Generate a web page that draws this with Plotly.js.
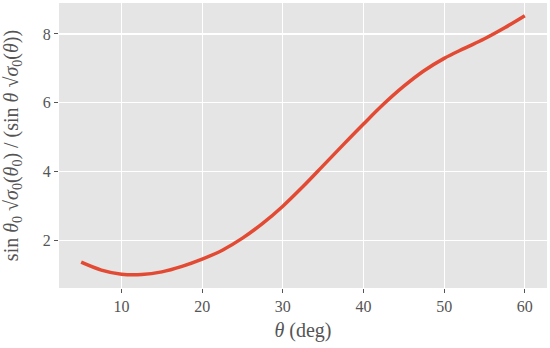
<!DOCTYPE html>
<html>
<head>
<meta charset="utf-8">
<script src="https://cdn.plot.ly/plotly-3.0.1.min.js"></script>
<style>html,body{margin:0;padding:0;background:#fff;}#chart{width:550px;height:348px;}</style>
</head>
<body>
<div id="chart"></div>
<script>
const theta = [5, 7.5, 10, 12.5, 15, 17.5, 20, 22.5, 25, 27.5, 30, 32.5, 35, 37.5, 40, 42.5, 45, 47.5, 50, 52.5, 55, 57.5, 60];
const ratio = [1.36, 1.13, 1.01, 1.00, 1.08, 1.24, 1.45, 1.71, 2.06, 2.49, 2.99, 3.56, 4.17, 4.78, 5.38, 5.96, 6.48, 6.93, 7.29, 7.58, 7.86, 8.18, 8.53];
const xTicks = [10, 20, 30, 40, 50, 60];
const yTicks = [2, 4, 6, 8];

const font = "Liberation Serif";
Plotly.newPlot('chart', [{
  x: theta, y: ratio, type: 'scatter', mode: 'lines',
  line: {color: '#E24A33', width: 3.5, shape: 'spline', smoothing: 1},
  hoverinfo: 'skip'
}], {
  width: 550, height: 348,
  margin: {l: 59, r: 3, t: 3, b: 60},
  paper_bgcolor: '#ffffff', plot_bgcolor: '#E5E5E5',
  showlegend: false,
  font: {family: font, color: '#555555', size: 16},
  xaxis: {
    range: [2.25, 62.75], tickvals: xTicks, ticktext: xTicks.map(String),
    showgrid: true, gridcolor: '#ffffff', gridwidth: 1.3, zeroline: false,
    ticks: 'outside', ticklen: 4, tickwidth: 1, tickcolor: '#555555',
    tickfont: {size: 16, color: '#555555', family: font},
    title: {text: '<i>θ</i> (deg)', font: {size: 20, color: '#555555', family: font}, standoff: 8},
    showline: false
  },
  yaxis: {
    range: [0.61, 8.9], tickvals: yTicks, ticktext: yTicks.map(String),
    showgrid: true, gridcolor: '#ffffff', gridwidth: 1.3, zeroline: false,
    ticks: 'outside', ticklen: 4, tickwidth: 1, tickcolor: '#555555',
    tickfont: {size: 16, color: '#555555', family: font},
    title: {text: 'sin <i>θ</i><sub>0</sub> √<i>σ</i><sub>0</sub>(<i>θ</i><sub>0</sub>) / (sin <i>θ</i> √<i>σ</i><sub>0</sub>(<i>θ</i>))', font: {size: 20, color: '#555555', family: font}},
    showline: false
  }
}, {displayModeBar: false, staticPlot: true});
</script>
</body>
</html>
